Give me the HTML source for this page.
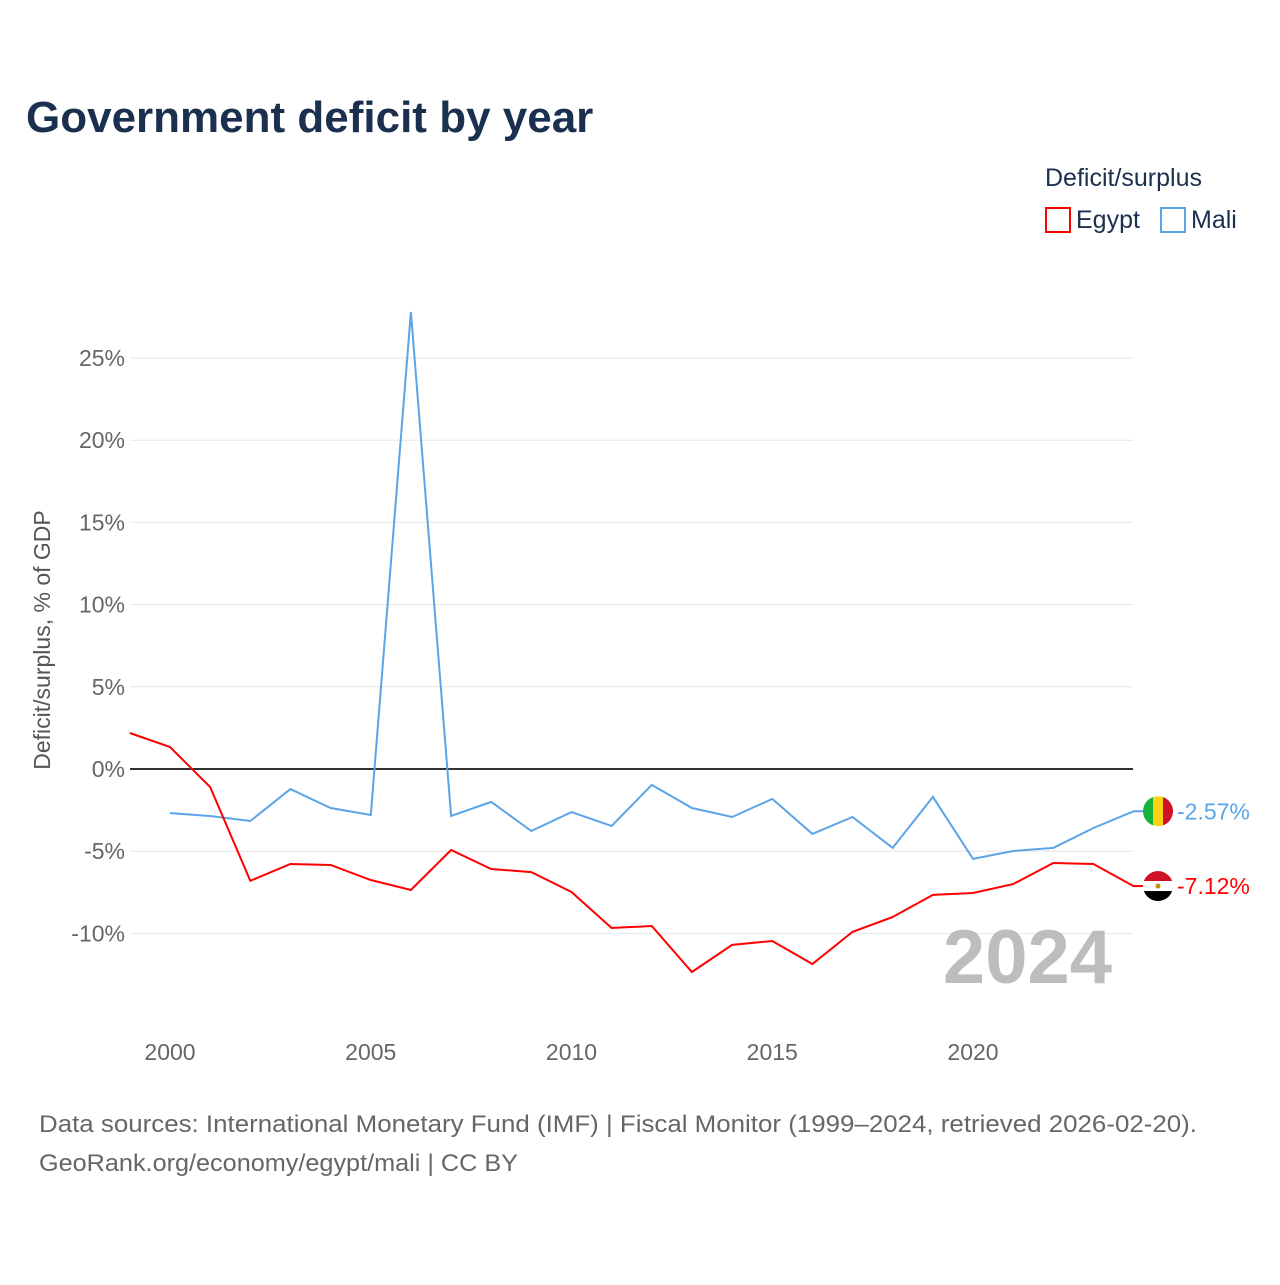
<!DOCTYPE html>
<html><head><meta charset="utf-8">
<style>
html,body{margin:0;padding:0;background:#fff;}
body{width:1280px;height:1280px;overflow:hidden;font-family:"Liberation Sans",sans-serif;}
</style></head>
<body>
<svg id="chart" width="1280" height="1280" xmlns="http://www.w3.org/2000/svg" font-family="Liberation Sans, sans-serif">
<text x="26" y="132" font-size="44" font-weight="bold" fill="#1b2f4e">Government deficit by year</text>
<text x="1045" y="186" font-size="25" fill="#1b2f4e">Deficit/surplus</text>
<g>
<rect x="1046" y="208" width="24" height="24" fill="none" stroke="#ff0000" stroke-width="2"/>
<text x="1076" y="228" font-size="25" fill="#1b2f4e">Egypt</text></g>
<g>
<rect x="1161" y="208" width="24" height="24" fill="none" stroke="#5ba4e8" stroke-width="2"/>
<text x="1191" y="228" font-size="25" fill="#1b2f4e">Mali</text></g>
<text transform="translate(50,640) rotate(-90)" text-anchor="middle" font-size="23" fill="#555">Deficit/surplus, % of GDP</text>
<g id="grid"></g><g id="series"></g>
<text x="1112" y="983" text-anchor="end" font-size="76" font-weight="bold" fill="#bdbdbd">2024</text>
<text x="39" y="1132" font-size="24" fill="#666" textLength="1158" lengthAdjust="spacingAndGlyphs">Data sources: International Monetary Fund (IMF) | Fiscal Monitor (1999–2024, retrieved 2026-02-20).</text>
<text x="39" y="1171" font-size="24" fill="#666" textLength="479" lengthAdjust="spacingAndGlyphs">GeoRank.org/economy/egypt/mali | CC BY</text>
</svg>
<script>
const years=[1999,2000,2001,2002,2003,2004,2005,2006,2007,2008,2009,2010,2011,2012,2013,2014,2015,2016,2017,2018,2019,2020,2021,2022,2023,2024];
const egypt=[2.19,1.34,-1.1,-6.8,-5.78,-5.84,-6.75,-7.36,-4.93,-6.08,-6.27,-7.48,-9.67,-9.55,-12.35,-10.7,-10.46,-11.86,-9.91,-9.0,-7.66,-7.54,-7.0,-5.72,-5.78,-7.12];
const mali=[null,-2.68,-2.86,-3.16,-1.22,-2.37,-2.8,27.8,-2.86,-2.0,-3.77,-2.62,-3.47,-0.97,-2.37,-2.92,-1.82,-3.95,-2.92,-4.8,-1.7,-5.47,-4.99,-4.8,-3.59,-2.57];
const yTicks=[-10,-5,0,5,10,15,20,25];
const xTicks=[2000,2005,2010,2015,2020];
const NS="http://www.w3.org/2000/svg";
const xs=y=>170+(y-2000)*40.15;
const ys=v=>769-v*16.44;
function mk(tag,attrs,parent){const e=document.createElementNS(NS,tag);for(const k in attrs)e.setAttribute(k,attrs[k]);parent.appendChild(e);return e;}
const grid=document.getElementById('grid'),ser=document.getElementById('series');
yTicks.forEach(t=>{
 const l=mk('line',{x1:130,x2:1133,y1:ys(t),y2:ys(t),stroke:t===0?'#333':'#e6e6e6','stroke-width':t===0?2:1},grid);
 
 
 const tx=mk('text',{x:125,y:ys(t)+8,'text-anchor':'end','font-size':23,fill:'#666'},grid);
 tx.textContent=t+'%';
 
 
});
xTicks.forEach(t=>{
 const tx=mk('text',{x:xs(t),y:1060,'text-anchor':'middle','font-size':23,fill:'#666'},grid);
 tx.textContent=t;
 
 
});
function line(vals,color,name){
 let d='';vals.forEach((v,i)=>{if(v===null)return;d+=(d?'L':'M')+xs(years[i]).toFixed(1)+','+ys(v).toFixed(1);});
 const p=mk('path',{d:d,fill:'none',stroke:color,'stroke-width':2},ser);
 
 
}
line(mali,'#5ba4e8','mali-line');
line(egypt,'#ff0000','egypt-line');
function endLabel(vals,color,name,flag){
 const v=vals[vals.length-1],y=ys(v),x=1158;
 mk('line',{x1:1133,x2:1146,y1:y,y2:y,stroke:color,'stroke-width':2},ser);
 const g=mk('g',{},ser);
 
 
 const cid='c'+name;
 const cp=mk('clipPath',{id:cid},g);mk('circle',{cx:x,cy:y,r:15},cp);
 const gg=mk('g',{'clip-path':'url(#'+cid+')'},g);
 if(flag==='mali'){
  mk('rect',{x:x-15,y:y-15,width:10,height:30,fill:'#14b53a'},gg);
  mk('rect',{x:x-5,y:y-15,width:10,height:30,fill:'#fcd116'},gg);
  mk('rect',{x:x+5,y:y-15,width:10,height:30,fill:'#ce1126'},gg);
 }else{
  mk('rect',{x:x-15,y:y-15,width:30,height:10,fill:'#ce1126'},gg);
  mk('rect',{x:x-15,y:y-5,width:30,height:10,fill:'#fff'},gg);
  mk('rect',{x:x-15,y:y+5,width:30,height:10,fill:'#000'},gg);
  mk('circle',{cx:x,cy:y,r:2.5,fill:'#c09300'},gg);
 }
 const t=mk('text',{x:1177,y:y+8,'font-size':23,fill:color},ser);
 t.textContent=v.toFixed(2)+'%';
 
 
}
endLabel(mali,'#5ba4e8','mali','mali');
endLabel(egypt,'#ff0000','egypt','egypt');
</script>
</body></html>
